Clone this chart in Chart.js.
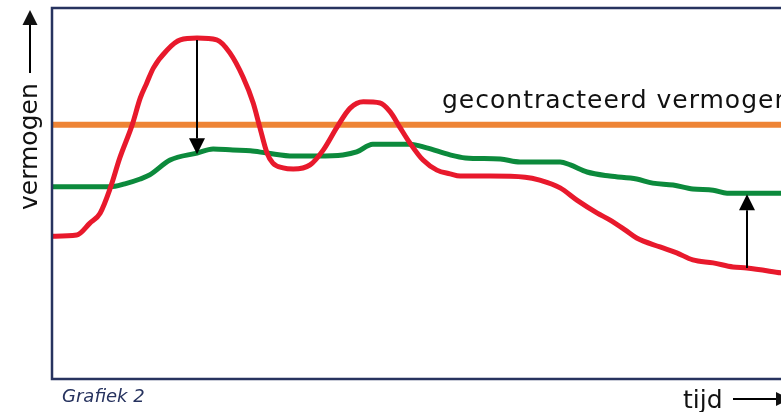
<!DOCTYPE html>
<html>
<head>
<meta charset="utf-8">
<script src="https://cdn.jsdelivr.net/npm/chart.js@4.4.1/dist/chart.umd.min.js"></script>
<style>
  html, body { margin: 0; padding: 0; background: #fff; }
  canvas { display: block; }
</style>
</head>
<body>
<canvas id="grafiek" width="781" height="412"></canvas>
<script>
const tijdRood = [0, 3.4, 5.2, 6.6, 8.0, 9.3, 11.0, 12.1, 13.0, 13.9, 15.8, 17.6, 19.9, 22.6, 24.4, 26.2, 27.6, 28.5, 29.5, 30.3, 31.7, 33.1, 35.4, 37.2, 39.1, 40.9, 42.7, 45.0, 46.4, 47.7, 49.1, 50.9, 52.8, 54.6, 56.0, 60.1, 64.9, 66.9, 69.7, 72.0, 74.8, 76.5, 78.6, 80.2, 83.4, 85.7, 87.9, 90.7, 93.4, 95.3, 100];
const vermogenRood = [38.5, 38.8, 42.0, 44.7, 51.5, 59.6, 68.5, 75.7, 79.8, 83.8, 88.7, 91.4, 91.9, 91.4, 87.9, 81.4, 74.4, 67.9, 60.9, 58.2, 56.9, 56.6, 57.7, 61.7, 67.9, 73.0, 74.7, 74.4, 72.0, 67.9, 63.6, 59.0, 56.3, 55.3, 54.7, 54.7, 54.4, 53.6, 51.5, 48.2, 44.7, 42.9, 40.2, 38.0, 35.6, 34.0, 32.1, 31.3, 30.2, 29.9, 28.6];

const tijdGroen = [0, 8.0, 10.0, 12.1, 13.4, 16.2, 19.9, 22.1, 24.8, 27.2, 29.5, 33.1, 36.4, 39.9, 41.8, 44.0, 49.1, 51.4, 54.6, 56.7, 61.5, 64.2, 69.7, 71.1, 73.4, 76.5, 80.2, 82.4, 85.2, 87.9, 90.7, 92.6, 100];
const vermogenGroen = [51.8, 51.8, 52.6, 53.9, 55.0, 59.0, 60.9, 62.0, 61.7, 61.5, 60.9, 60.1, 60.1, 60.4, 61.2, 63.3, 63.3, 62.3, 60.4, 59.6, 59.3, 58.5, 58.5, 57.7, 55.8, 54.7, 53.9, 52.8, 52.3, 51.2, 50.9, 50.1, 50.1];

const gecontracteerd = 68.5;

// pijlen: tijdstip, van (rood) naar (groen)
const pijlTijd = [19.9, 95.3];
const pijlVan = [91.4, 29.9];
const pijlNaar = [60.6, 49.8];

const rood = tijdRood.map((t, i) => ({ x: t, y: vermogenRood[i] }));
const groen = tijdGroen.map((t, i) => ({ x: t, y: vermogenGroen[i] }));
const oranje = [{ x: 0, y: gecontracteerd }, { x: 100, y: gecontracteerd }];

const navy = '#27335f';
const lettertype = '"DejaVu Sans", Verdana, sans-serif';

function pijl(ctx, x1, y1, x2, y2, kop) {
    const hoek = Math.atan2(y2 - y1, x2 - x1);
    ctx.beginPath();
    ctx.moveTo(x1, y1);
    ctx.lineTo(x2 - Math.cos(hoek) * kop, y2 - Math.sin(hoek) * kop);
    ctx.stroke();
    ctx.beginPath();
    ctx.moveTo(x2, y2);
    ctx.lineTo(x2 - Math.cos(hoek) * kop - Math.sin(hoek) * kop / 2, y2 - Math.sin(hoek) * kop + Math.cos(hoek) * kop / 2);
    ctx.lineTo(x2 - Math.cos(hoek) * kop + Math.sin(hoek) * kop / 2, y2 - Math.sin(hoek) * kop - Math.cos(hoek) * kop / 2);
    ctx.closePath();
    ctx.fill();
}

const extras = {
    id: 'extras',
    afterDatasetsDraw(chart) {
        const ctx = chart.ctx;
        const x = chart.scales.x, y = chart.scales.y;
        const ca = chart.chartArea;
        ctx.save();

        // kader (links, boven, onder)
        ctx.strokeStyle = navy;
        ctx.lineWidth = 2.5;
        ctx.beginPath();
        ctx.moveTo(chart.width + 2, ca.top);
        ctx.lineTo(ca.left, ca.top);
        ctx.lineTo(ca.left, ca.bottom);
        ctx.lineTo(chart.width + 2, ca.bottom);
        ctx.stroke();

        // pijlen tussen de lijnen
        ctx.strokeStyle = '#000';
        ctx.fillStyle = '#000';
        ctx.lineWidth = 2;
        pijlTijd.forEach((t, i) => {
            const px = Math.round(x.getPixelForValue(t));
            pijl(ctx, px, y.getPixelForValue(pijlVan[i]), px, y.getPixelForValue(pijlNaar[i]), 16);
        });

        // teksten
        ctx.fillStyle = '#111';
        ctx.font = '25px ' + lettertype;
        ctx.textBaseline = 'alphabetic';
        ctx.textAlign = 'left';
        ctx.letterSpacing = '1px';
        ctx.fillText('gecontracteerd vermogen', 442, y.getPixelForValue(gecontracteerd) - 17);
        ctx.letterSpacing = '0px';

        ctx.fillText('tijd', 683, 408);
        pijl(ctx, 733, 399, 790, 399, 14);

        ctx.save();
        ctx.translate(37, 210);
        ctx.rotate(-Math.PI / 2);
        ctx.fillText('vermogen', 0, 0);
        ctx.restore();
        pijl(ctx, 30, 73, 30, 10, 15);

        ctx.fillStyle = navy;
        ctx.font = 'italic 18px ' + lettertype;
        ctx.fillText('Grafiek 2', 62, 402);
        ctx.restore();
    }
};

new Chart(document.getElementById('grafiek'), {
    type: 'line',
    data: {
        datasets: [
            { label: 'rood', data: rood, borderColor: '#e8192c', borderWidth: 5, cubicInterpolationMode: 'monotone' },
            { label: 'groen', data: groen, borderColor: '#0c8a3c', borderWidth: 5, cubicInterpolationMode: 'monotone' },
            { label: 'gecontracteerd vermogen', data: oranje, borderColor: '#ee8435', borderWidth: 6, tension: 0 }
        ]
    },
    options: {
        responsive: false,
        animation: false,
        devicePixelRatio: 1,
        layout: { padding: { left: 52, top: 8, right: 0, bottom: 33 } },
        elements: { point: { radius: 0 }, line: { borderCapStyle: 'round', borderJoinStyle: 'round' } },
        plugins: { legend: { display: false }, tooltip: { enabled: false } },
        scales: {
            x: { type: 'linear', min: 0, max: 100, display: false },
            y: { min: 0, max: 100, display: false }
        }
    },
    plugins: [extras]
});
</script>
</body>
</html>
